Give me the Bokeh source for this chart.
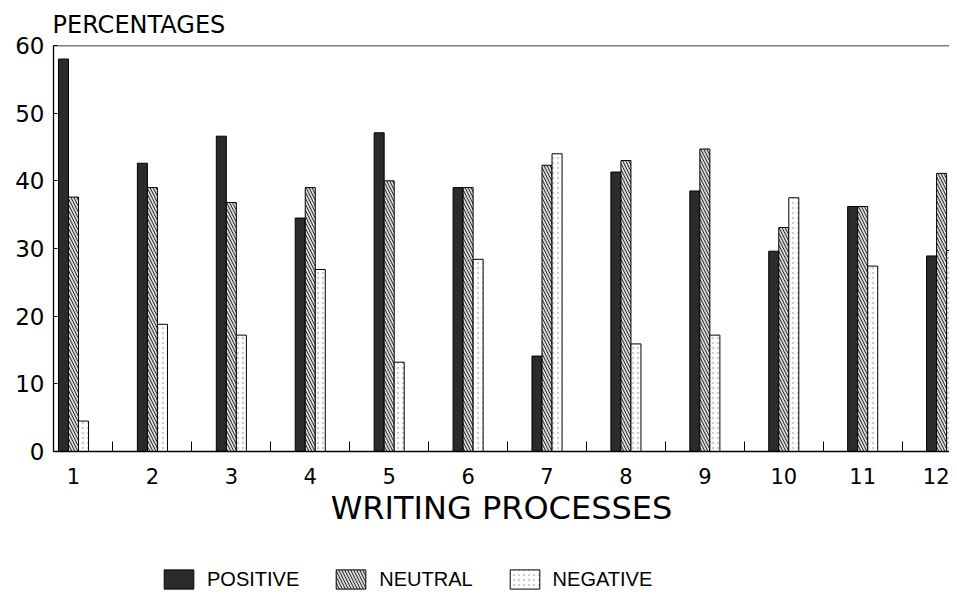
from bokeh.plotting import figure
from bokeh.models import Range1d, FixedTicker, Span, Legend, LegendItem, ColumnDataSource
from bokeh.layouts import column
from bokeh.transform import dodge
from bokeh.embed import file_html
from bokeh.resources import INLINE

categories = [1, 2, 3, 4, 5, 6, 7, 8, 9, 10, 11, 12]
positive = [58.0, 42.6, 46.6, 34.5, 47.1, 39.0, 14.1, 41.3, 38.5, 29.6, 36.2, 28.9]
neutral = [37.6, 39.0, 36.8, 39.0, 40.0, 39.0, 42.3, 43.0, 44.7, 33.1, 36.2, 41.1]
negative = [4.5, 18.8, 17.2, 26.9, 13.2, 28.4, 44.0, 15.9, 17.2, 37.5, 27.4, 29.7]
y_ticks = [0, 10, 20, 30, 40, 50, 60]
series_labels = ["POSITIVE", "NEUTRAL", "NEGATIVE"]

FONT = "DejaVu Sans"
bw = 0.127

styles = [
    dict(fill_color="#2b2b2b", line_color="black", line_width=1),
    dict(fill_color="#d6d6d6", line_color="black", line_width=1,
         hatch_pattern="\\", hatch_color="black", hatch_scale=6, hatch_weight=0.8),
    dict(fill_color="white", line_color="black", line_width=1,
         hatch_pattern=".", hatch_color="#9a9a9a", hatch_scale=5, hatch_alpha=0.5),
]
cols = ['pos', 'neu', 'neg']

src = ColumnDataSource(dict(x=categories, pos=positive, neu=neutral, neg=negative))

x0 = 0.7465
x_range = Range1d(x0, 12.10)
p = figure(width=949, height=540,
           x_range=x_range, y_range=Range1d(0, 60),
           output_backend="svg", toolbar_location=None,
           min_border_left=53, min_border_right=0,
           min_border_top=45, min_border_bottom=89)

for i, (c, s) in enumerate(zip(cols, styles)):
    p.vbar(x=dodge('x', (i - 1) * bw, range=x_range), top=c, width=bw, source=src, **s)

p.xgrid.visible = False
p.ygrid.visible = False
p.outline_line_color = None
p.background_fill_color = "white"

p.add_layout(Span(location=60, dimension='width', line_color="black", line_width=1.3))

# title
p.title.text = "PERCENTAGES"
p.title.align = "left"
p.title.text_font = FONT
p.title.text_font_size = "24px"
p.title.text_font_style = "normal"
p.title.text_color = "black"
p.title.standoff = 13
p.title.offset = -1

# y axis
p.yaxis.ticker = FixedTicker(ticks=y_ticks)
p.yaxis.major_tick_in = 4
p.yaxis.major_tick_out = 0
p.yaxis.minor_tick_in = 0
p.yaxis.minor_tick_out = 0
p.yaxis.axis_line_color = "black"
p.yaxis.axis_line_width = 1.3
p.yaxis.major_label_text_font = FONT
p.yaxis.major_label_text_font_size = "23px"
p.yaxis.major_label_text_color = "black"
p.yaxis.major_label_standoff = 9

# x axis
p.xaxis.ticker = FixedTicker(ticks=categories,
                             minor_ticks=[c + 0.5 for c in categories[:-1]])
p.xaxis.major_tick_in = 0
p.xaxis.major_tick_out = 0
p.xaxis.minor_tick_in = 10
p.xaxis.minor_tick_out = 0
p.xaxis.minor_tick_line_color = "black"
p.xaxis.axis_line_color = "black"
p.xaxis.axis_line_width = 1.3
p.xaxis.major_label_text_font = FONT
p.xaxis.major_label_text_font_size = "21px"
p.xaxis.major_label_text_color = "black"
p.xaxis.major_label_standoff = 16
p.xaxis.axis_label = "WRITING PROCESSES"
p.xaxis.axis_label_text_font = FONT
p.xaxis.axis_label_text_font_size = "32px"
p.xaxis.axis_label_text_font_style = "normal"
p.xaxis.axis_label_text_color = "black"
p.xaxis.axis_label_standoff = 2

# legend strip (its bars sit below the visible y range; only the legend shows)
lg = figure(width=949, height=53, x_range=x_range, y_range=Range1d(100, 101),
            x_axis_type=None, y_axis_type=None,
            output_backend="svg", toolbar_location=None,
            min_border_left=0, min_border_right=0, min_border_top=0, min_border_bottom=0)
lg.xgrid.visible = False
lg.ygrid.visible = False
lg.outline_line_color = None
rs = [lg.vbar(x='x', top=c, width=bw, source=src, **s) for c, s in zip(cols, styles)]

legend = Legend(items=[LegendItem(label=lab, renderers=[r]) for lab, r in zip(series_labels, rs)],
                orientation="horizontal", location=(107, 2),
                glyph_width=37, glyph_height=24, label_standoff=10, spacing=33,
                padding=0, margin=0, border_line_color=None,
                background_fill_alpha=0, label_text_font="Liberation Sans",
                label_text_font_size="20px", label_height=24, label_text_color="black",
                label_text_baseline="middle")
lg.add_layout(legend)

layout = column(p, lg, spacing=0)
open("out.html", "w").write(file_html(layout, INLINE))
